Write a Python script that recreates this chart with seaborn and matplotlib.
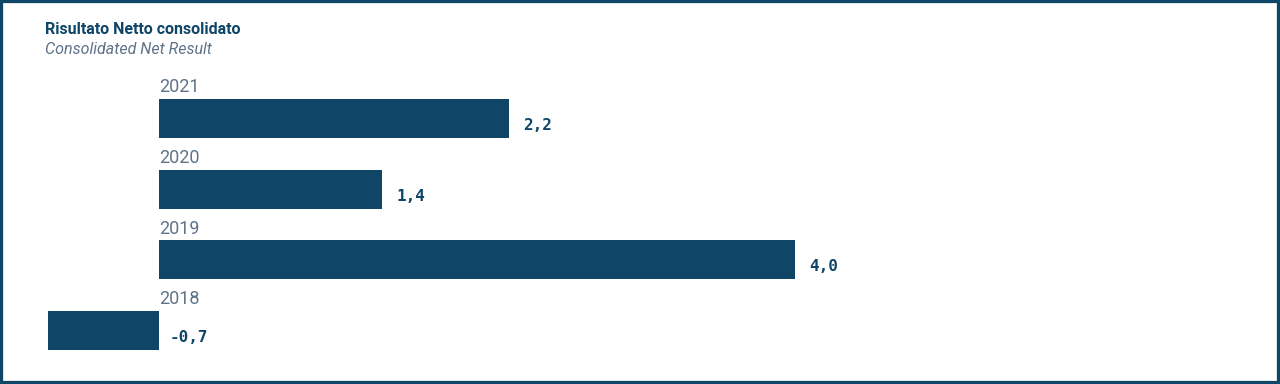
import matplotlib
matplotlib.use("Agg")
import matplotlib.pyplot as plt
import seaborn as sns
import pandas as pd
from matplotlib.patches import Rectangle

years = ["2021", "2020", "2019", "2018"]
values = [2.2, 1.4, 4.0, -0.7]
title = "Risultato Netto consolidato"
subtitle = "Consolidated Net Result"

DARK = "#0f4567"
GREY = "#5f7389"

sns.set_theme(style="white")
plt.rcParams["font.family"] = ["Roboto", "DejaVu Sans"]

df = pd.DataFrame({"year": years, "value": values})

fig = plt.figure(figsize=(12.8, 3.84), dpi=100)
ax = fig.add_axes([0, 0, 1, 1])
sns.barplot(data=df, x="value", y="year", order=years, orient="h",
            color=DARK, saturation=1, width=0.55, linewidth=0, ax=ax)

ax.set_xlim(-1.0, 7.05)
ax.set_ylim(3.755, -1.676)
ax.axis("off")

for i, (yr, v) in enumerate(zip(years, values)):
    ax.annotate(yr, xy=(0, i), xytext=(0, 22.5), textcoords="offset points",
                ha="left", va="center", fontsize=13, fontweight="normal",
                color=GREY)
    lab = f"{v:.1f}".replace(".", ",")
    ax.annotate(lab, xy=(max(v, 0), i), xytext=(10.5 if v > 0 else 8, -5),
                textcoords="offset points", ha="left", va="center",
                fontsize=11.5, fontweight="bold", color=DARK,
                family="DejaVu Sans Mono")

fig.text(45 / 1280, 1 - 30 / 384, title, ha="left", va="center",
         fontsize=11.5, fontweight="bold", color=DARK)
fig.text(45 / 1280, 1 - 49 / 384, subtitle, ha="left", va="center",
         fontsize=11.5, fontweight="normal", style="italic", color=GREY)

fig.patches.append(Rectangle((0, 0), 1, 1, transform=fig.transFigure,
                             fill=False, edgecolor="#0e4667", linewidth=4.5,
                             zorder=10))

fig.savefig("out.png", dpi=100)
